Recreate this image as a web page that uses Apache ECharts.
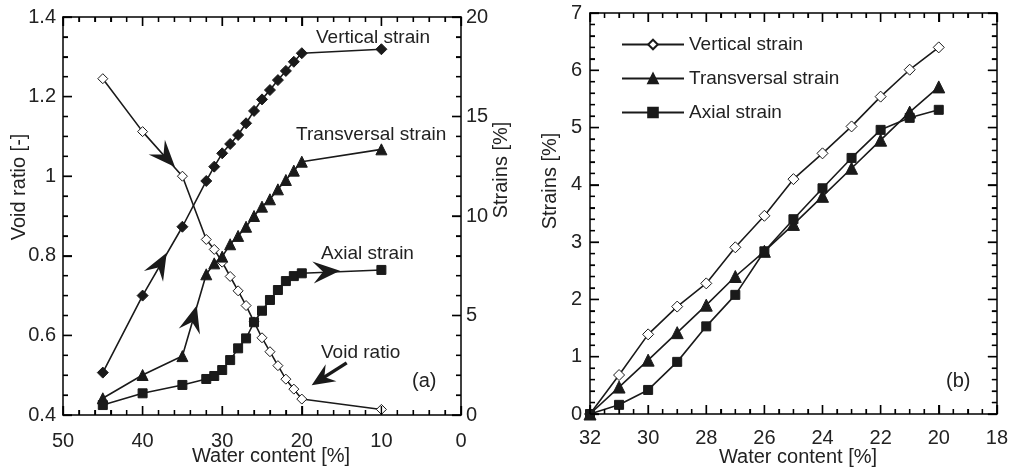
<!DOCTYPE html>
<html>
<head>
<meta charset="utf-8">
<script src="https://cdn.jsdelivr.net/npm/echarts@6/dist/echarts.min.js"></script>
<style>
  html, body { margin: 0; padding: 0; background: #fff; }
  #main { width: 1011px; height: 472px; }
</style>
</head>
<body>
<div id="main"></div>
<script>
// (a) drying path, water content [%]
const wcA = [45, 40, 35, 32, 31, 30, 29, 28, 27, 26, 25, 24, 23, 22, 21, 20, 10]
const voidRatio = [1.245, 1.112, 1.0, 0.841, 0.816, 0.784, 0.748, 0.712, 0.675, 0.634, 0.594, 0.559, 0.524, 0.49, 0.465, 0.44, 0.414]
const vertA = [2.13, 6.0, 9.46, 11.76, 12.48, 13.15, 13.62, 14.07, 14.66, 15.28, 15.86, 16.33, 16.83, 17.29, 17.75, 18.18, 18.38]
const transA = [0.84, 2.01, 2.96, 7.07, 7.62, 7.96, 8.58, 9.0, 9.46, 10.0, 10.47, 10.84, 11.34, 11.81, 12.28, 12.73, 13.35]
const axialA = [0.5, 1.09, 1.51, 1.81, 1.96, 2.26, 2.76, 3.35, 3.85, 4.66, 5.24, 5.78, 6.28, 6.73, 6.98, 7.12, 7.29]

// (b) strains from w = 32 %
const wcB = [32, 31, 30, 29, 28, 27, 26, 25, 24, 23, 22, 21, 20]
const vertB = [0, 0.68, 1.39, 1.875, 2.28, 2.91, 3.46, 4.10, 4.55, 5.02, 5.54, 6.01, 6.40]
const transB = [0, 0.47, 0.94, 1.42, 1.90, 2.40, 2.84, 3.31, 3.80, 4.29, 4.78, 5.27, 5.71]
const axialB = [0, 0.16, 0.42, 0.91, 1.53, 2.08, 2.84, 3.40, 3.94, 4.47, 4.96, 5.17, 5.31]

// arrows on panel (a): [yAxisIndex, from, tip]
const arrowsA = [
  [0, [40, 1.112], [35.93, 1.023]],
  [1, [40, 6.0], [36.97, 8.15]],
  [1, [35, 2.96], [33.2, 5.5]],
  [1, [20, 7.12], [15.2, 7.25]],
]
const voidPointer = [[14.36, 0.531], [18.76, 0.475]]

const FONT = '"Liberation Sans", Arial, sans-serif'
const INK = '#1a1a1a'
const TXT = '#222'

const pair = (xs, ys) => xs.map((x, i) => [x, ys[i]])

function frameAxis(extra, minorSplit, label) {
  return Object.assign({
    type: 'value',
    axisLine: { show: true, onZero: false, lineStyle: { color: '#000', width: 1.5 } },
    axisTick: { show: true, inside: true, length: 9, lineStyle: { color: '#000', width: 1.3 } },
    minorTick: { show: true, splitNumber: minorSplit, length: 5, lineStyle: { color: '#000', width: 1.2 } },
    splitLine: { show: false },
    axisLabel: label ? Object.assign({ color: TXT, fontSize: 20, fontFamily: FONT }, label) : { show: false },
  }, extra)
}

function lineSeries(name, xAxisIndex, yAxisIndex, data, symbol, size, filled) {
  return {
    name, type: 'line', xAxisIndex, yAxisIndex, data,
    symbol, symbolSize: size,
    lineStyle: { color: INK, width: 1.6 },
    itemStyle: { color: filled ? INK : '#fff', borderColor: INK, borderWidth: 1 },
    z: 3,
  }
}

const chart = echarts.init(document.getElementById('main'))

const option = {
  animation: false,
  grid: [
    { left: 63, top: 17, width: 398, height: 398 },
    { left: 590, top: 13, width: 408, height: 401 },
  ],
  legend: {
    left: 616, top: 30, orient: 'vertical',
    itemWidth: 62, itemHeight: 12, itemGap: 15,
    textStyle: { color: TXT, fontSize: 19, fontFamily: FONT },
    data: [
      { name: 'Vertical strain' },
      { name: 'Transversal strain' },
      { name: 'Axial strain' },
    ],
  },
  xAxis: [
    frameAxis({ gridIndex: 0, position: 'bottom', min: 0, max: 50, interval: 10, inverse: true }, 5, { margin: 16 }),
    frameAxis({ gridIndex: 0, position: 'top', min: 0, max: 50, interval: 10, inverse: true }, 5, null),
    frameAxis({ gridIndex: 1, position: 'bottom', min: 18, max: 32, interval: 2, inverse: true }, 4, { margin: 14 }),
    frameAxis({ gridIndex: 1, position: 'top', min: 18, max: 32, interval: 2, inverse: true }, 4, null),
  ],
  yAxis: [
    frameAxis({ gridIndex: 0, position: 'left', min: 0.4, max: 1.4, interval: 0.2 }, 4, { margin: 7 }),
    frameAxis({ gridIndex: 0, position: 'right', min: 0, max: 20, interval: 5 }, 5, { margin: 5 }),
    frameAxis({ gridIndex: 1, position: 'left', min: 0, max: 7, interval: 1 }, 5, { margin: 8 }),
    frameAxis({ gridIndex: 1, position: 'right', min: 0, max: 7, interval: 1 }, 5, null),
  ],
  series: [
    lineSeries('Void ratio (a)', 0, 0, pair(wcA, voidRatio), 'diamond', 10, false),
    lineSeries('Vertical strain (a)', 0, 1, pair(wcA, vertA), 'diamond', 11, true),
    lineSeries('Transversal strain (a)', 0, 1, pair(wcA, transA), 'triangle', 11, true),
    lineSeries('Axial strain (a)', 0, 1, pair(wcA, axialA), 'rect', 9, true),
    lineSeries('Vertical strain', 2, 2, pair(wcB, vertB), 'diamond', 11, false),
    lineSeries('Transversal strain', 2, 2, pair(wcB, transB), 'triangle', 12, true),
    lineSeries('Axial strain', 2, 2, pair(wcB, axialB), 'rect', 9, true),
  ],
}

chart.setOption(option)

// arrowhead polygon with a notched back, pointing from `from` to `tip` (pixels)
function arrowHead(from, tip, len, hw, notch) {
  const dx = tip[0] - from[0], dy = tip[1] - from[1]
  const d = Math.hypot(dx, dy)
  const ux = dx / d, uy = dy / d
  const nx = -uy, ny = ux
  return {
    type: 'polygon', z: 10,
    shape: { points: [
      tip,
      [tip[0] - ux * len + nx * hw, tip[1] - uy * len + ny * hw],
      [tip[0] - ux * notch, tip[1] - uy * notch],
      [tip[0] - ux * len - nx * hw, tip[1] - uy * len - ny * hw],
    ] },
    style: { fill: INK },
  }
}

function text(str, x, y, size, align) {
  return {
    type: 'text', x, y, z: 10,
    style: { text: str, fill: TXT, font: (size || 19) + 'px ' + FONT, align: align || 'left', verticalAlign: 'middle' },
  }
}

function vText(str, x, y) {
  return {
    type: 'text', x, y, rotation: Math.PI / 2, z: 10,
    style: { text: str, fill: TXT, font: '20px ' + FONT, align: 'center', verticalAlign: 'middle' },
  }
}

// extra tick bars on top of the axis ticks, in case those are not painted
function tickBar(x, y, w, h) {
  return { type: 'rect', z: 100, shape: { x, y, width: w, height: h }, style: { fill: '#000' } }
}

function addTicks(out, finder, dim, min, max, step, minorN, sides, other) {
  const lo = chart.convertToPixel(finder, dim === 'x' ? [min, other[0]] : [other[0], min])
  const hi = chart.convertToPixel(finder, dim === 'x' ? [max, other[1]] : [other[1], max])
  const left = Math.min(lo[0], hi[0]), right = Math.max(lo[0], hi[0])
  const top = Math.min(lo[1], hi[1]), bottom = Math.max(lo[1], hi[1])
  const n = Math.round((max - min) / step) * minorN
  const t = 1.4
  for (let k = 0; k <= n; k++) {
    const v = min + k * step / minorN
    const len = k % minorN === 0 ? 9 : 5
    if (dim === 'x') {
      const x = chart.convertToPixel(finder, [v, other[0]])[0]
      if (sides.includes('bottom')) out.push(tickBar(x - t / 2, bottom - len, t, len))
      if (sides.includes('top')) out.push(tickBar(x - t / 2, top, t, len))
    } else {
      const y = chart.convertToPixel(finder, [other[0], v])[1]
      if (sides.includes('left')) out.push(tickBar(left, y - t / 2, len, t))
      if (sides.includes('right')) out.push(tickBar(right - len, y - t / 2, len, t))
    }
  }
}

const graphics = []
const fVoid = { xAxisIndex: 0, yAxisIndex: 0 }
const fStrainA = { xAxisIndex: 0, yAxisIndex: 1 }
const fB = { xAxisIndex: 2, yAxisIndex: 2 }

arrowsA.forEach(([yi, from, tip]) => {
  const p0 = chart.convertToPixel({ xAxisIndex: 0, yAxisIndex: yi }, from)
  const p1 = chart.convertToPixel({ xAxisIndex: 0, yAxisIndex: yi }, tip)
  graphics.push(arrowHead(p0, p1, 27, 11, 17))
})
{
  const p0 = chart.convertToPixel(fVoid, voidPointer[0])
  const p1 = chart.convertToPixel(fVoid, voidPointer[1])
  const d = Math.hypot(p1[0] - p0[0], p1[1] - p0[1])
  const back = [p1[0] - (p1[0] - p0[0]) / d * 14, p1[1] - (p1[1] - p0[1]) / d * 14]
  graphics.push({ type: 'line', z: 10, shape: { x1: p0[0], y1: p0[1], x2: back[0], y2: back[1] },
    style: { stroke: INK, lineWidth: 3.5 } })
  graphics.push(arrowHead(p0, p1, 23, 10, 15))
}

graphics.push(
  text('Vertical strain', 316, 38),
  text('Transversal strain', 296, 135),
  text('Axial strain', 321, 254),
  text('Void ratio', 321, 353),
  text('(a)', 412, 381, 20),
  text('(b)', 946, 381, 20),
  text('Water content [%]', 271, 456, 20, 'center'),
  text('Water content [%]', 798, 457, 20, 'center'),
  vText('Void ratio [-]', 19, 187),
  vText('Strains [%]', 501, 170),
  vText('Strains [%]', 550, 181)
)

addTicks(graphics, fVoid, 'x', 0, 50, 10, 5, ['bottom', 'top'], [0.4, 1.4])
addTicks(graphics, fVoid, 'y', 0.4, 1.4, 0.2, 4, ['left'], [50, 0])
addTicks(graphics, fStrainA, 'y', 0, 20, 5, 5, ['right'], [50, 0])
addTicks(graphics, fB, 'x', 18, 32, 2, 4, ['bottom', 'top'], [0, 7])
addTicks(graphics, fB, 'y', 0, 7, 1, 5, ['left', 'right'], [32, 18])

chart.setOption({ graphic: graphics })
</script>
</body>
</html>
